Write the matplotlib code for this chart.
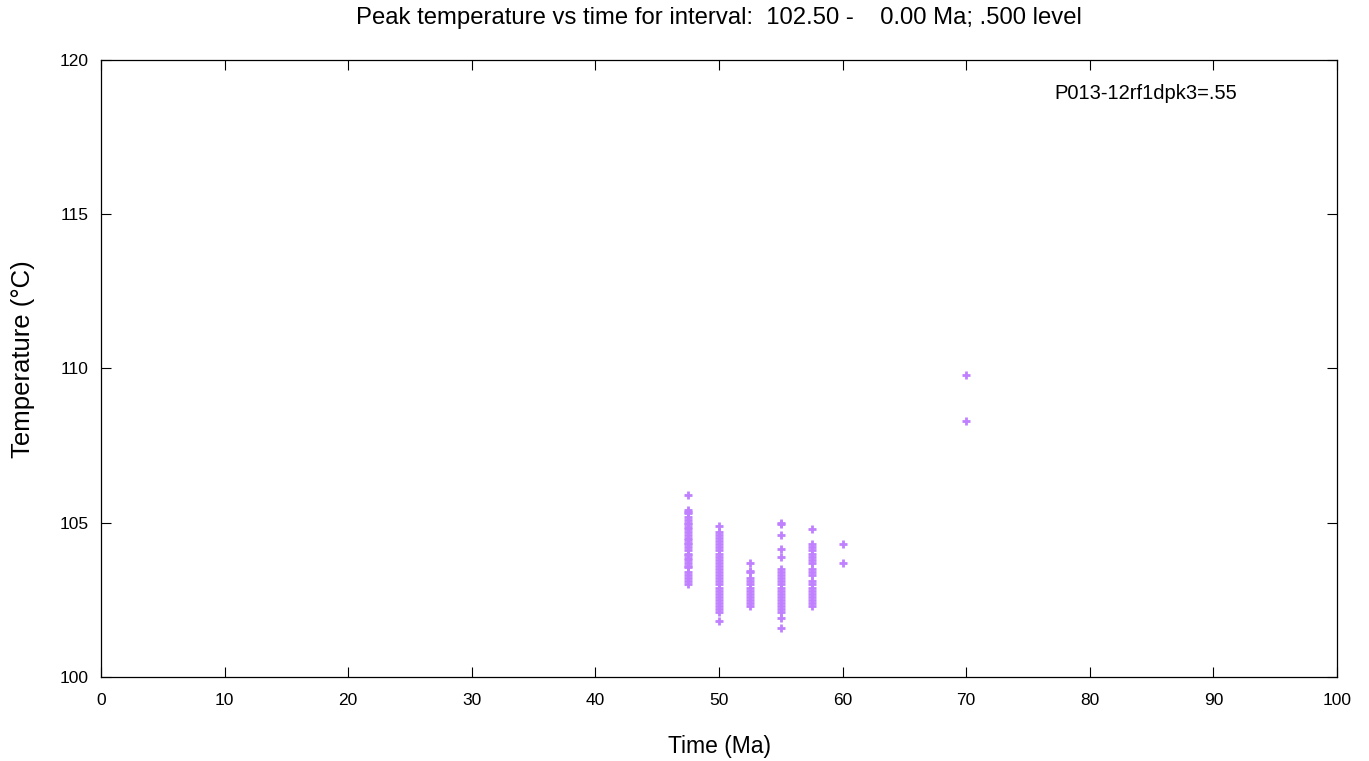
import numpy as np
import matplotlib
matplotlib.use("Agg")
import matplotlib.pyplot as plt

plt.rcParams['font.family'] = ['Liberation Sans', 'DejaVu Sans']

# peak temperatures (degC) grouped by time (Ma)
t_47_5 = [105.9, 105.4, 105.35, 105.3, 105.2, 105.1, 105.0, 104.95, 104.85, 104.8,
          104.7, 104.6, 104.5, 104.45, 104.35, 104.3, 104.2, 104.1, 104.0, 103.95,
          103.85, 103.8, 103.7, 103.6, 103.55, 103.4, 103.3, 103.2, 103.1, 103.0]
t_50_0 = [104.9, 104.7, 104.6, 104.5, 104.4, 104.3, 104.2, 104.1, 104.0, 103.9,
          103.8, 103.7, 103.6, 103.5, 103.4, 103.3, 103.2, 103.1, 103.0, 102.9,
          102.8, 102.7, 102.6, 102.5, 102.4, 102.3, 102.2, 102.1, 101.8]
t_52_5 = [103.7, 103.45, 103.4, 103.2, 103.1, 103.0, 102.9, 102.8, 102.7, 102.6,
          102.5, 102.4, 102.3]
t_55_0 = [105.0, 104.95, 104.6, 104.15, 103.9, 103.5, 103.4, 103.3, 103.2, 103.1,
          103.0, 102.9, 102.8, 102.7, 102.6, 102.5, 102.4, 102.3, 102.2, 102.1,
          101.9, 101.6]
t_57_5 = [104.8, 104.3, 104.2, 104.1, 104.0, 103.9, 103.8, 103.7, 103.5, 103.4,
          103.3, 103.1, 103.0, 102.9, 102.8, 102.7, 102.6, 102.5, 102.4, 102.3]
t_60_0 = [104.3, 103.7]
t_70_0 = [109.8, 108.3]

groups = {47.5: t_47_5, 50.0: t_50_0, 52.5: t_52_5, 55.0: t_55_0,
          57.5: t_57_5, 60.0: t_60_0, 70.0: t_70_0}

x_ticks = list(range(0, 101, 10))
y_ticks = [100, 105, 110, 115, 120]

fig = plt.figure(figsize=(13.69, 7.61), dpi=100)
ax = fig.add_axes([0.0738, 0.1104, 0.9028, 0.8108])

xs = []
ys = []
for age, temps in groups.items():
    xs += [age] * len(temps)
    ys += temps
ax.plot(xs, ys, linestyle='none', marker='+', color='#c080ff',
        markersize=5.5, markeredgewidth=2)

ax.set_xlim(0, 100)
ax.set_ylim(100, 120)
ax.set_xticks(x_ticks)
ax.set_yticks(y_ticks)
ax.tick_params(direction='in', top=True, right=True, length=7, width=0.8,
               labelsize=12.5)
ax.tick_params(axis='x', pad=11.5)
ax.tick_params(axis='y', pad=9)
for s in ax.spines.values():
    s.set_linewidth(0.9)

# gnuplot-ish label placement
ax.set_xlabel('Time (Ma)', fontsize=16.5, va='center')
ax.xaxis.set_label_coords(0.5004, -0.112)
ax.set_ylabel('Temperature (\u00b0C)', fontsize=18.5, va='center')
ax.yaxis.set_label_coords(-0.063, 0.515)

# title centred over the plot area
ax.text(0.5, 1.068, 'Peak temperature vs time for interval:  102.50 -    0.00 Ma; .500 level',
        transform=ax.transAxes, ha='center', va='center', fontsize=17.2)
ax.text(0.919, 0.945, 'P013-12rf1dpk3=.55', transform=ax.transAxes,
        ha='right', va='center', fontsize=14.5)

fig.savefig('out.png', dpi=100)
